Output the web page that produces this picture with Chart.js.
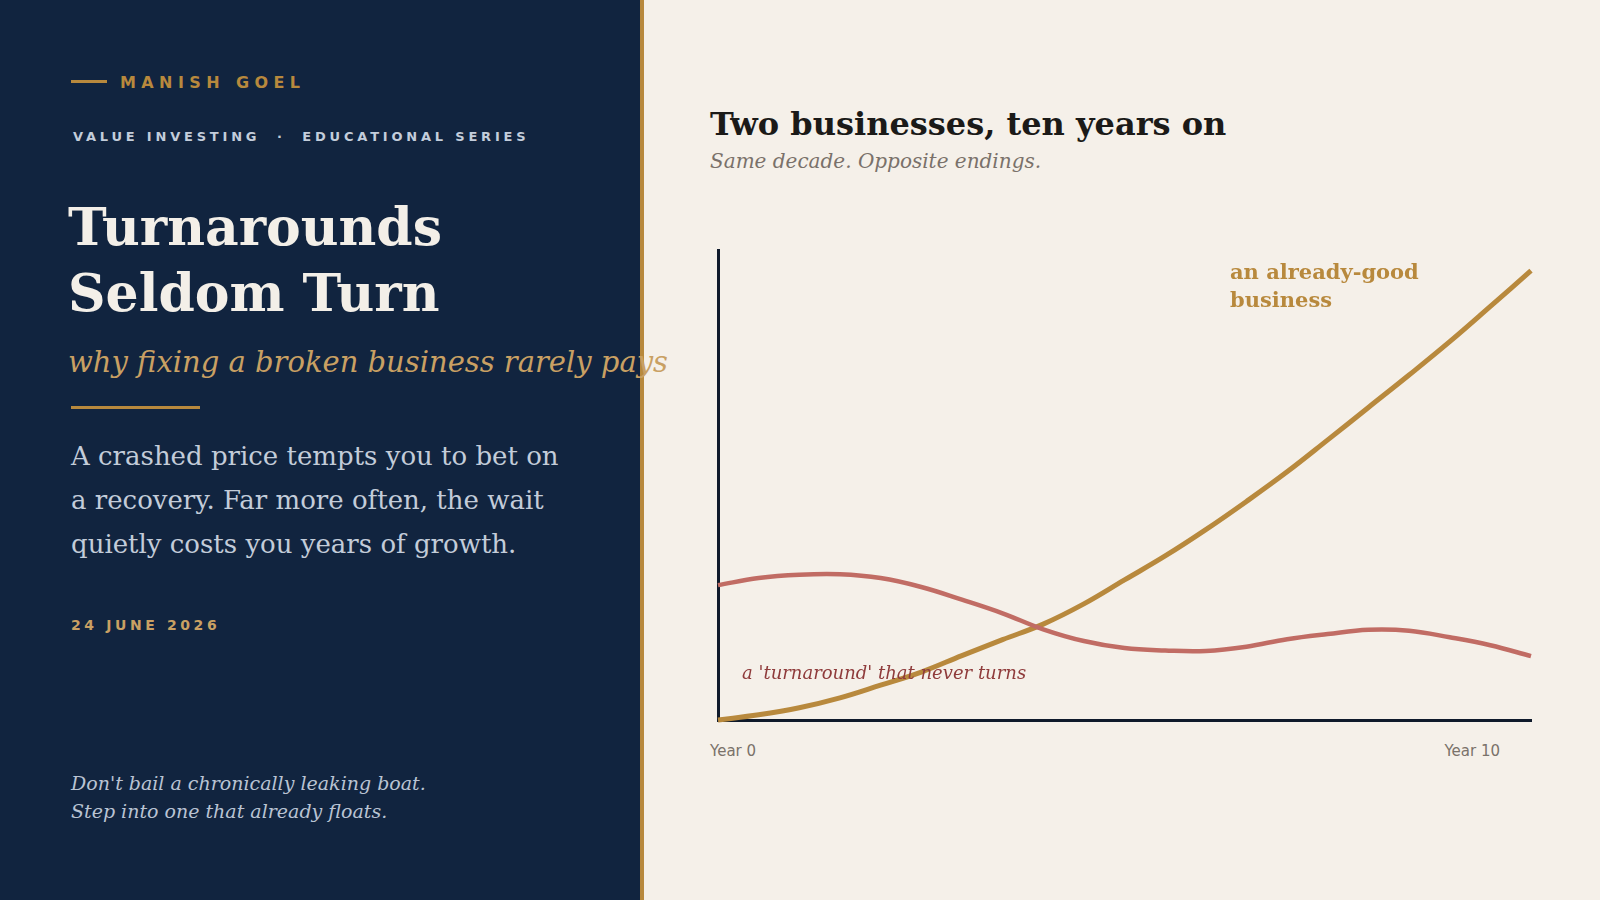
<!DOCTYPE html>
<html>
<head>
<meta charset="utf-8">
<script src="https://cdn.jsdelivr.net/npm/chart.js@4.4.1/dist/chart.umd.min.js"></script>
<style>
  html, body { margin:0; padding:0; width:1600px; height:900px; overflow:hidden; background:#f5f0e9; }
  .abs { position:absolute; white-space:nowrap; }
  #left { position:absolute; left:0; top:0; width:640px; height:900px; background:#11243f; }
  #goldbar { position:absolute; left:640px; top:0; width:4px; height:900px; background:#b8893d; }
  .serif { font-family:"DejaVu Serif", serif; }
  .sans { font-family:"DejaVu Sans", sans-serif; }
</style>
</head>
<body>
<div id="left"></div>
<div id="goldbar"></div>

<div class="abs" style="left:71px;top:80px;width:36px;height:3px;background:#b8893d;"></div>
<div class="abs sans" style="left:120px;top:73px;font-size:16px;line-height:20px;font-weight:bold;letter-spacing:5.4px;color:#b8893d;">MANISH GOEL</div>
<div class="abs sans" style="left:73px;top:129px;font-size:13px;line-height:16px;font-weight:bold;letter-spacing:3.8px;color:#c3cddb;">VALUE INVESTING &nbsp;·&nbsp; EDUCATIONAL SERIES</div>

<div class="abs serif" style="left:68px;top:194px;font-size:52px;line-height:66px;font-weight:bold;color:#f3efe8;">Turnarounds<br>Seldom Turn</div>
<div class="abs serif" style="left:68px;top:345px;font-size:29px;line-height:34px;font-style:italic;color:#c9a063;z-index:5;">why fixing a broken business rarely pays</div>
<div class="abs" style="left:71px;top:406px;width:129px;height:3px;background:#b8893d;"></div>

<div class="abs serif" style="left:71px;top:434px;font-size:26px;line-height:44px;color:#c3ccd9;">A crashed price tempts you to bet on<br>a recovery. Far more often, the wait<br>quietly costs you years of growth.</div>

<div class="abs sans" style="left:71px;top:616px;font-size:14px;line-height:18px;font-weight:bold;letter-spacing:3.6px;color:#c9a063;">24 JUNE 2026</div>

<div class="abs serif" style="left:71px;top:769px;font-size:19px;line-height:28px;font-style:italic;color:#b9c3d3;">Don't bail a chronically leaking boat.<br>Step into one that already floats.</div>

<div class="abs serif" style="left:710px;top:104px;font-size:32px;line-height:40px;font-weight:bold;color:#1b1a18;">Two businesses, ten years on</div>
<div class="abs serif" style="left:710px;top:149px;font-size:20px;line-height:24px;font-style:italic;color:#7a716a;">Same decade. Opposite endings.</div>

<div style="position:absolute;left:700px;top:240px;width:850px;height:490px;">
  <canvas id="c" width="850" height="490"></canvas>
</div>

<div id="lblGood" class="abs serif" style="left:1230px;top:258px;font-size:21px;line-height:28px;font-weight:bold;color:#b8893d;"></div>
<div id="lblTurn" class="abs serif" style="left:742px;top:662px;font-size:18px;line-height:22px;font-style:italic;color:#8f3b3b;"></div>
<div id="x0" class="abs sans" style="left:710px;top:742px;font-size:15px;line-height:18px;color:#7a726a;"></div>
<div id="x1" class="abs sans" style="right:100px;top:742px;font-size:15px;line-height:18px;color:#7a726a;"></div>

<script>
// ---- data ----
const years = [0, 0.5, 1, 1.5, 2, 2.5, 3, 3.5, 4, 4.5, 5, 5.5, 6, 6.5, 7, 7.5, 8, 8.5, 9, 9.5, 10];
const goodBusiness = [0, 1.1, 2.6, 4.7, 7.4, 10.2, 13.7, 17.1, 20.4, 24.7, 29.8, 34.9, 40.5, 46.5, 52.8, 59.6, 66.5, 73.4, 80.5, 88.0, 95.6];
const turnaround = [28.7, 30.2, 30.9, 31.0, 30.2, 28.3, 25.6, 22.7, 19.3, 16.8, 15.3, 14.8, 14.7, 15.6, 17.2, 18.3, 19.2, 19.0, 17.6, 15.9, 13.6];
const xTickLabels = ["Year 0", "Year 10"];
const seriesLabels = ["an already-good business", "a 'turnaround' that never turns"];

document.getElementById('lblGood').innerHTML = "an already-good<br>business";
document.getElementById('lblTurn').textContent = seriesLabels[1];
document.getElementById('x0').textContent = xTickLabels[0];
document.getElementById('x1').textContent = xTickLabels[1];

const toPts = arr => arr.map((v, i) => ({ x: years[i], y: v }));

new Chart(document.getElementById('c'), {
  type: 'line',
  data: {
    datasets: [
      { label: seriesLabels[1], data: toPts(turnaround), borderColor: '#c16c64', borderWidth: 4.5,
        pointRadius: 0, tension: 0.4, clip: false, fill: false },
      { label: seriesLabels[0], data: toPts(goodBusiness), borderColor: '#b8893d', borderWidth: 5,
        pointRadius: 0, tension: 0.4, clip: false, fill: false }
    ]
  },
  options: {
    responsive: false,
    animation: false,
    layout: { padding: { left: 18, right: 19, top: 10, bottom: 10 } },
    plugins: { legend: { display: false }, tooltip: { enabled: false } },
    scales: {
      x: { type: 'linear', min: 0, max: 10,
           grid: { display: false, drawTicks: false }, ticks: { display: false },
           border: { display: true, color: '#0f1a2b', width: 3 } },
      y: { type: 'linear', min: 0, max: 100,
           grid: { display: false, drawTicks: false }, ticks: { display: false },
           border: { display: true, color: '#0f1a2b', width: 3 } }
    }
  }
});
</script>
</body>
</html>
